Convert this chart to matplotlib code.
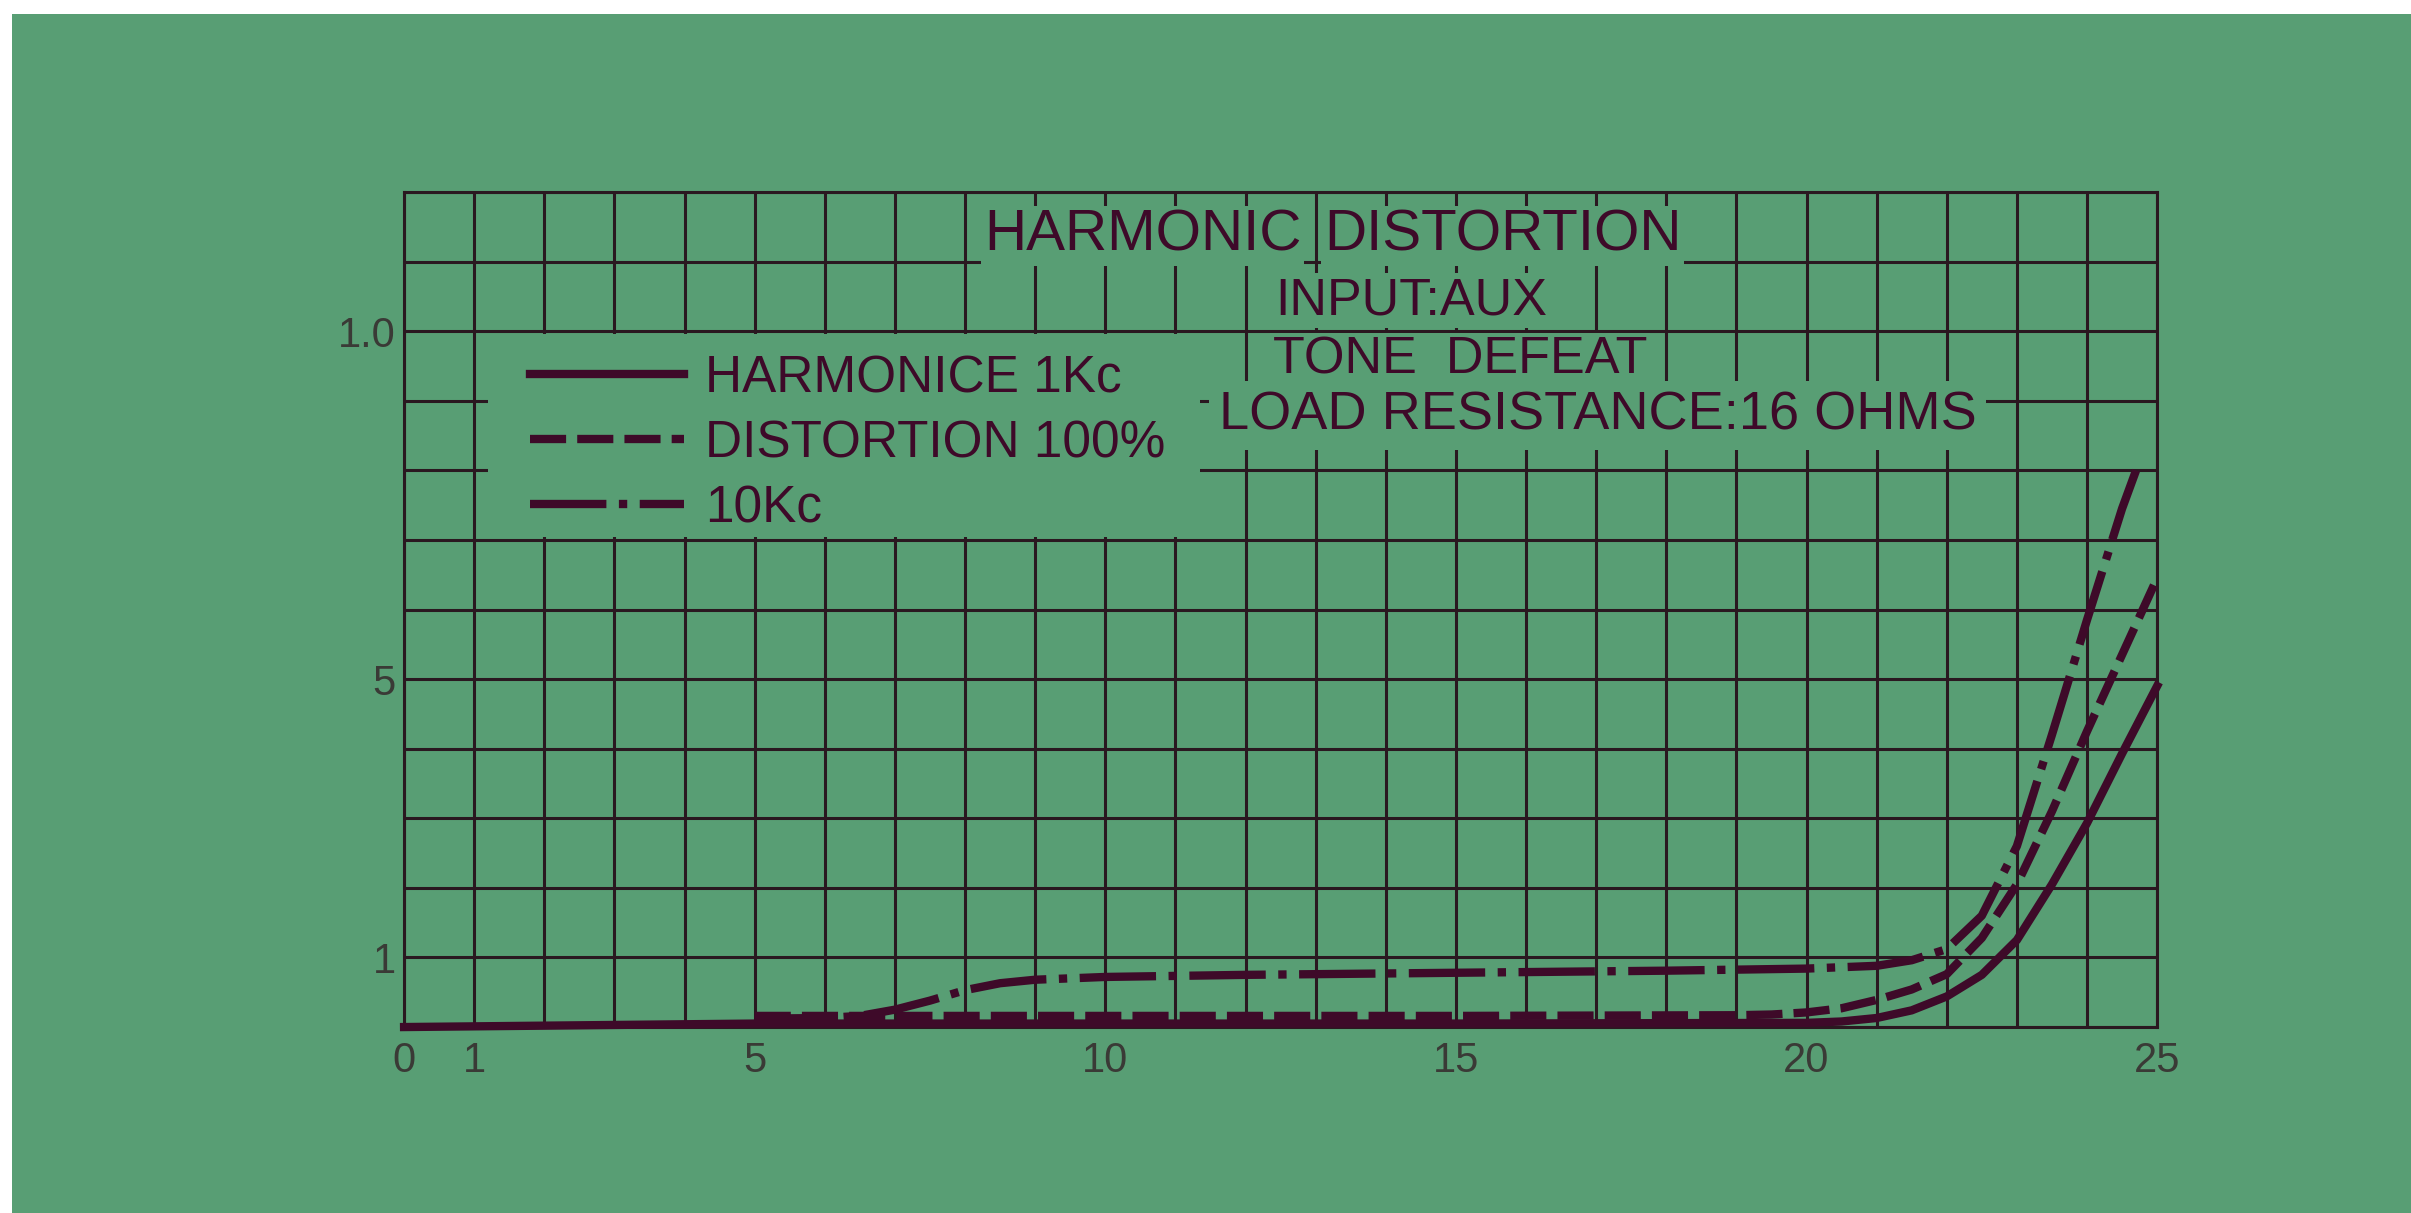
import matplotlib
matplotlib.use('Agg')
import matplotlib.pyplot as plt
from matplotlib.patches import Rectangle

plt.rcParams['font.family'] = ['Liberation Sans', 'DejaVu Sans']
plt.rcParams['lines.scale_dashes'] = False

# values (output W vs distortion %)
harm_x = [0, 5, 10, 15, 20, 20.5, 21, 21.5, 22, 22.5, 23, 23.5, 24, 24.5, 25]
harm_y = [0.0, 0.005, 0.005, 0.005, 0.006, 0.008, 0.013, 0.024, 0.044, 0.075, 0.125, 0.205, 0.293, 0.393, 0.49]

dist_x = [5, 10, 15, 19, 19.5, 20, 20.5, 21, 21.5, 22, 22.5, 23, 23.5, 24, 24.5, 25]
dist_y = [0.016, 0.016, 0.016, 0.017, 0.018, 0.021, 0.027, 0.039, 0.054, 0.076, 0.128, 0.205, 0.31, 0.425, 0.535, 0.645]

k10_x = [5, 6, 6.5, 7, 7.5, 8, 8.5, 9, 10, 12, 15, 18, 20, 21, 21.5, 22, 22.5, 23, 23.5, 24, 24.5, 24.7]
k10_y = [0.012, 0.013, 0.016, 0.025, 0.038, 0.053, 0.063, 0.068, 0.072, 0.075, 0.078, 0.081, 0.084, 0.088, 0.096, 0.112, 0.16, 0.26, 0.42, 0.585, 0.745, 0.80]

labels = ['HARMONICE 1Kc', 'DISTORTION 100%', '10Kc']

x_ticks = [0, 1, 5, 10, 15, 20, 25]
x_ticklabels = ['0', '1', '5', '10', '15', '20', '25']
y_ticks = [0.1, 0.5, 1.0]
y_ticklabels = ['1', '5', '1.0']

green = '#589e74'
ink = '#3e0a29'
gridc = '#2a1820'

fig = plt.figure(figsize=(24.11, 12.13), dpi=100, facecolor='white')
# the green paper, with a white strip on the top and left of the scan
fig.patches.append(Rectangle((12 / 2411, 0), 1, 1 - 14 / 1213, transform=fig.transFigure,
                             facecolor=green, edgecolor='none', zorder=-1))

ax = fig.add_axes([0.1676, 0.1533, 0.7271, 0.6884])
ax.set_facecolor('none')
ax.set_xlim(0, 25)
ax.set_ylim(0, 1.2)

ax.set_xticks(x_ticks)
ax.set_xticklabels(x_ticklabels)
ax.set_yticks(y_ticks)
ax.set_yticklabels(y_ticklabels)
ax.set_xticks(range(26), minor=True)
ax.set_yticks([i / 10 for i in range(13)], minor=True)
ax.tick_params(which='both', length=0)
ax.tick_params(axis='x', pad=10, labelsize=30, labelcolor='#3a3a36')
ax.tick_params(axis='y', pad=6, labelsize=30, labelcolor='#3a3a36')

ax.set_axisbelow(True)
ax.grid(which='both', color=gridc, lw=2.2)
for s in ax.spines.values():
    s.set_color(gridc)
    s.set_linewidth(2.2)

# blank area behind the legend
ax.add_patch(Rectangle((1.2, 0.704), 10.15, 0.292, facecolor=green, edgecolor='none', zorder=1))

ax.plot(harm_x, harm_y, color=ink, lw=6, ls='-', label=labels[0], zorder=3, clip_on=False)
ax.plot(dist_x, dist_y, color=ink, lw=6, dashes=(26, 8), label=labels[1], zorder=3, clip_on=False)
ax.plot(k10_x, k10_y, color=ink, lw=6, dashes=(55, 9, 6, 9), label=labels[2], zorder=3, clip_on=False)

leg = ax.legend(loc='upper left', bbox_to_anchor=(1.8, 0.967), bbox_transform=ax.transData,
                frameon=False, fontsize=37, handlelength=3.0, handletextpad=0.4,
                labelspacing=0.31, borderpad=0, borderaxespad=0, labelcolor=ink)
leg.set_zorder(5)

box = dict(facecolor=green, edgecolor='none', pad=2)
ax.text(8.27, 1.137, 'HARMONIC', fontsize=42, color=ink, ha='left', va='center', bbox=box, zorder=4)
ax.text(13.12, 1.137, 'DISTORTION', fontsize=42, color=ink, ha='left', va='center', bbox=box, zorder=4)
ax.text(12.43, 1.044, 'INPUT:AUX', fontsize=37.5, color=ink, ha='left', va='center', bbox=box, zorder=4)
ax.text(12.39, 0.958, 'TONE  DEFEAT', fontsize=37.5, color=ink, ha='left', va='center', bbox=box, zorder=4)
ax.text(11.62, 0.879, 'LOAD RESISTANCE:16 OHMS', fontsize=39, color=ink, ha='left', va='center',
        bbox=dict(facecolor=green, edgecolor='none', pad=7), zorder=4)

fig.savefig('out.png', dpi=100, facecolor=fig.get_facecolor())
